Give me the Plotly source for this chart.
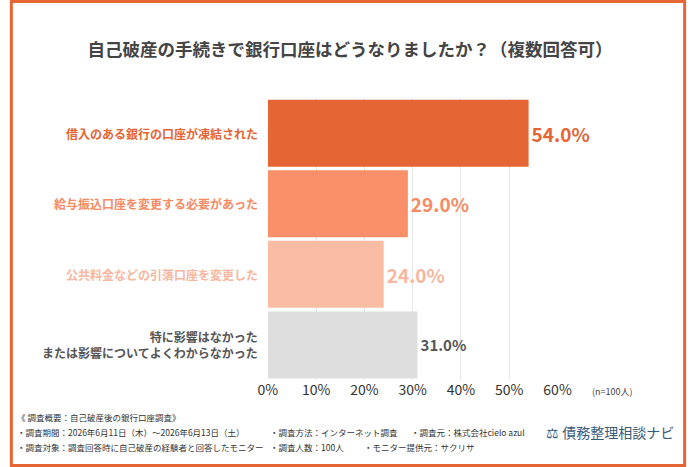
import plotly.graph_objects as go

categories = ["借入のある銀行の口座が凍結された", "給与振込口座を変更する必要があった",
              "公共料金などの引落口座を変更した", "特に影響はなかった<br>または影響についてよくわからなかった"]
values = [54.0, 29.0, 24.0, 31.0]
bar_colors = ["#e56535", "#fa9069", "#fbbca4", "#dedede"]
label_colors = ["#e56535", "#f58a63", "#f7b69d", "#555555"]
ticks = [0, 10, 20, 30, 40, 50, 60]
F = "Noto Sans CJK JP"

fig = go.Figure(go.Bar(
    y=categories, x=values, orientation="h",
    marker=dict(color=bar_colors, line=dict(width=0)),
    text=[f"<b>{v:.1f}%</b>" for v in values], textposition="outside",
    textfont=dict(family=F, size=[19, 19, 19, 15], color=label_colors),
    cliponaxis=False, width=0.95))

fig.update_layout(
    width=700, height=467, margin=dict(l=0, r=0, t=0, b=0),
    paper_bgcolor="white", plot_bgcolor="white", showlegend=False,
    font=dict(family=F, color="#444"),
    xaxis=dict(domain=[0.3814, 0.81], range=[0, 60], tickvals=ticks,
               ticktext=[f"{t}%" for t in ticks], showgrid=True,
               gridcolor="#e8e8e8", zeroline=False, tickfont=dict(size=14, color="#333"),
               ticklen=0, anchor="y"),
    yaxis=dict(domain=[0.186, 0.79], autorange="reversed", showticklabels=False),
    title=dict(text="<b>自己破産の手続きで銀行口座はどうなりましたか？（複数回答可）</b>",
               x=0.5, y=0.893, xanchor="center", yanchor="middle",
               font=dict(size=17.5, color="#444", family=F)),
)
for i, (c, col) in enumerate(zip(categories, label_colors)):
    fig.add_annotation(x=0.37, y=c, xref="paper", yref="y", xanchor="right",
                       text=f"<b>{c}</b>", showarrow=False, align="right",
                       font=dict(size=12, color=col, family=F))
fig.add_annotation(x=0.925, y=1 - 400 / 467, xref="paper", yref="paper", text="(n=100人)",
                   showarrow=False, font=dict(size=9, color="#444"))
foot = [
    (0.008, 425, "《 調査概要：自己破産後の銀行口座調査》"),
    (0.008, 440, "・調査期間：2026年6月11日（木）～2026年6月13日（土）"),
    (0.008, 455, "・調査対象：調査回答時に自己破産の経験者と回答したモニター"),
    (0.382, 440, "・調査方法：インターネット調査"),
    (0.382, 455, "・調査人数：100人"),
    (0.59, 440, "・調査元：株式会社cielo azul"),
    (0.52, 455, "・モニター提供元：サクリサ"),
]
for x, y, t in foot:
    fig.add_annotation(x=x, y=1 - y / 467, xref="paper", yref="paper", xanchor="left",
                       text=t, showarrow=False, font=dict(size=8.5, color="#333", family=F))
fig.add_annotation(x=0.79, y=1 - 444 / 467, xref="paper", yref="paper", xanchor="left",
                   text="<span style='color:#2a5a8a'>⚖</span> 債務整理相談ナビ", showarrow=False,
                   font=dict(size=14, color="#3a5a7a", family=F))
fig.add_shape(type="rect", xref="paper", yref="paper", x0=0.002, y0=0.003, x1=0.998, y1=0.997,
              line=dict(color="#e56535", width=3))
fig.write_html("out.html", config={"displayModeBar": False, "responsive": False},
               post_script="document.body.style.margin='0';document.body.style.overflow='hidden';"
                           "Plotly.relayout(document.getElementById('{plot_id}'),{width:700,height:467});")
